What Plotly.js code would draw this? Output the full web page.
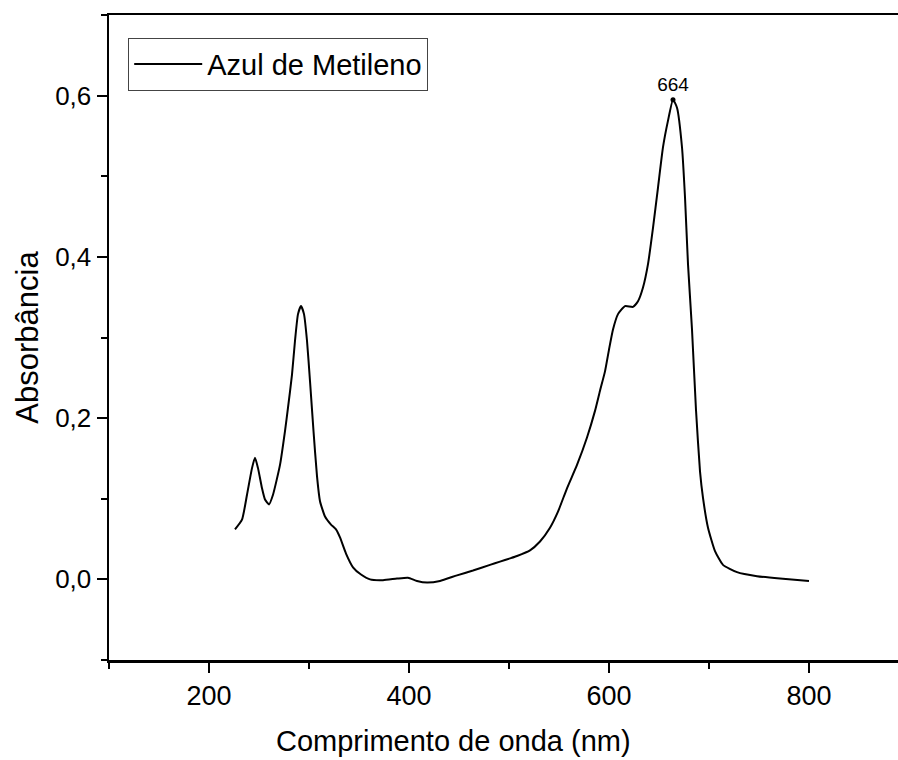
<!DOCTYPE html>
<html>
<head>
<meta charset="utf-8">
<script src="https://cdn.plot.ly/plotly-3.0.1.min.js"></script>
<style>
  html, body { margin: 0; padding: 0; overflow: hidden; background: #fff; }
  #chart { width: 920px; height: 760px; }
</style>
</head>
<body>
<div id="chart"></div>
<script>
// Wavelength (nm) and absorbance
const wavelength = [226, 233, 238, 243, 246, 249, 253, 256, 260, 264, 271, 276, 279, 283, 286, 289, 292, 295, 298, 301, 304.5, 308, 311, 316, 322, 327, 331, 337, 344, 352, 361, 374, 388, 399, 408, 418, 431, 448, 464, 481, 491, 501, 508, 521, 531, 541, 549, 558, 568, 578, 586, 591, 596, 600, 604, 609, 616, 624, 629, 634, 639, 644, 649, 654, 659, 664, 668, 673, 676, 679, 683, 687, 691, 694, 699, 706, 714, 728, 748, 771, 800];
const absorbance = [0.062, 0.074, 0.105, 0.138, 0.151, 0.138, 0.113, 0.099, 0.093, 0.105, 0.142, 0.184, 0.213, 0.254, 0.296, 0.329, 0.339, 0.329, 0.296, 0.246, 0.184, 0.128, 0.097, 0.078, 0.068, 0.062, 0.052, 0.032, 0.015, 0.006, 0.000, -0.001, 0.001, 0.002, -0.002, -0.004, -0.002, 0.005, 0.011, 0.018, 0.022, 0.026, 0.029, 0.036, 0.047, 0.064, 0.084, 0.113, 0.142, 0.176, 0.209, 0.234, 0.258, 0.285, 0.310, 0.329, 0.339, 0.338, 0.345, 0.362, 0.391, 0.436, 0.486, 0.536, 0.569, 0.595, 0.585, 0.536, 0.474, 0.391, 0.310, 0.210, 0.134, 0.101, 0.064, 0.035, 0.018, 0.009, 0.004, 0.001, -0.002];
const seriesName = 'Azul de Metileno';
const peakX = [664];
const peakY = [0.595];
const peakLabel = ['664'];
const xTickVals = [200, 400, 600, 800];
const yTickVals = [0.0, 0.2, 0.4, 0.6];
const xTitle = 'Comprimento de onda (nm)';
const yTitle = 'Absorbância';

const FONT = 'Liberation Sans, Arial, sans-serif';

const traces = [
  {
    x: wavelength, y: absorbance, type: 'scatter', mode: 'lines',
    name: seriesName,
    line: { color: '#000', width: 2, shape: 'spline', smoothing: 0.5 }
  },
  {
    x: peakX, y: peakY, type: 'scatter', mode: 'markers+text',
    text: peakLabel, textposition: 'top center',
    textfont: { family: FONT, size: 19, color: '#000' },
    marker: { color: '#000', size: 5 },
    showlegend: false, hoverinfo: 'skip'
  }
];

const layout = {
  width: 920, height: 760,
  margin: { l: 109, r: 11, t: 15, b: 100 },
  paper_bgcolor: '#fff', plot_bgcolor: '#fff',
  separators: ',.',
  font: { family: FONT, color: '#000' },
  showlegend: true,
  legend: {
    x: 0.024, y: 0.965, xanchor: 'left', yanchor: 'top',
    bordercolor: '#444', borderwidth: 1, bgcolor: 'rgba(255,255,255,0)',
    font: { family: FONT, size: 29, color: '#000' },
    itemwidth: 68
  },
  xaxis: {
    range: [100, 900], showgrid: false, zeroline: false,
    showline: true, linecolor: '#000', linewidth: 2.5, mirror: true,
    ticks: 'outside', ticklen: 10, tickwidth: 2, tickcolor: '#000',
    tickvals: xTickVals,
    minor: { ticks: 'outside', ticklen: 6, tickwidth: 2, tickcolor: '#000', dtick: 100, tick0: 100 },
    tickfont: { family: FONT, size: 27, color: '#000' }
  },
  yaxis: {
    range: [-0.1, 0.7], showgrid: false, zeroline: false,
    showline: true, linecolor: '#000', linewidth: 2.5, mirror: true,
    ticks: 'outside', ticklen: 10, tickwidth: 2, tickcolor: '#000',
    tickvals: yTickVals, tickformat: '.1f',
    minor: { ticks: 'outside', ticklen: 6, tickwidth: 2, tickcolor: '#000', dtick: 0.1, tick0: 0 },
    tickfont: { family: FONT, size: 26, color: '#000' },
    title: { text: yTitle, font: { family: FONT, size: 31, color: '#000' }, standoff: 8 }
  },
  annotations: [
    {
      text: xTitle, xref: 'paper', yref: 'paper',
      x: (453 - 109) / 800, y: (660 - 741) / 645, xanchor: 'center', yanchor: 'middle',
      showarrow: false, font: { family: FONT, size: 29, color: '#000' }
    }
  ]
};

Plotly.newPlot('chart', traces, layout, { displayModeBar: false, staticPlot: true });
</script>
</body>
</html>
